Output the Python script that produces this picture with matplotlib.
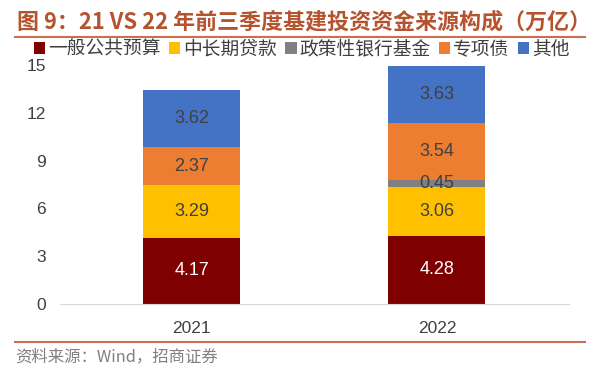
import matplotlib
matplotlib.use('Agg')
import matplotlib.pyplot as plt
from matplotlib.patches import Patch
from matplotlib.lines import Line2D

plt.rcParams['font.family'] = ['Noto Sans CJK SC', 'DejaVu Sans']

# 数据
years = ['2021', '2022']
series_names = ['一般公共预算', '中长期贷款', '政策性银行基金', '专项债', '其他']
general_budget = [4.17, 4.28]
long_loans = [3.29, 3.06]
policy_fund = [0.0, 0.45]
special_bonds = [2.37, 3.54]
others = [3.62, 3.63]
yticks = [0, 3, 6, 9, 12, 15]

series = [general_budget, long_loans, policy_fund, special_bonds, others]
colors = ['#7F0000', '#FFC000', '#808080', '#ED7D31', '#4472C4']
label_colors = ['white', '#404040', '#404040', '#404040', '#404040']

fig = plt.figure(figsize=(6, 3.79), dpi=100)
ax = fig.add_axes([0.1, 0.198, 0.8475, 0.6305])

x = list(range(len(years)))
bottom = [0.0] * len(years)
for vals, c, lc in zip(series, colors, label_colors):
    ax.bar(x, vals, width=0.395, bottom=bottom, color=c, zorder=2)
    for i, v in enumerate(vals):
        if v > 0:
            ax.text(x[i], bottom[i] + v / 2, f'{v:.2f}', ha='center', va='center',
                    fontsize=13, color=lc, family='Liberation Sans', zorder=3)
    bottom = [b + v for b, v in zip(bottom, vals)]

ax.set_xlim(-0.536, 1.536)
ax.set_ylim(0, 15)
ax.set_xticks(x)
ax.set_xticklabels(years, fontsize=12.5, color='#404040', family='Liberation Sans')
ax.set_yticks(yticks)
ax.set_yticklabels([str(t) for t in yticks], fontsize=12.5, color='#404040', family='Liberation Sans')
ax.tick_params(axis='y', length=0, pad=10)
ax.tick_params(axis='x', length=0, pad=12)
for s in ['top', 'right', 'left']:
    ax.spines[s].set_visible(False)
ax.spines['bottom'].set_color('#D9D9D9')

# 标题
fig.text(0.028, 0.942, '图 9：21 VS 22 年前三季度基建投资资金来源构成（万亿）',
         fontsize=15.8, fontweight='bold', color='#B5532F', va='center')
fig.add_artist(Line2D([0.025, 0.975], [0.902, 0.902], color='#C8704E', lw=1.5))

# 图例
handles = [Patch(facecolor=c, edgecolor='none') for c in colors]
fig.legend(handles, series_names, loc='center', bbox_to_anchor=(0.503, 0.87), ncol=5,
           frameon=False, fontsize=13.5, handlelength=0.6, handleheight=0.65,
           handletextpad=0.15, columnspacing=0.45, labelcolor='#404040',
           borderpad=0, borderaxespad=0)

# 来源
fig.add_artist(Line2D([0.025, 0.975], [0.0976, 0.0976], color='#C8704E', lw=1.5))
fig.text(0.025, 0.058, '资料来源：Wind，招商证券', fontsize=11.8, color='#808080', va='center')

fig.savefig('out.png', dpi=100)
